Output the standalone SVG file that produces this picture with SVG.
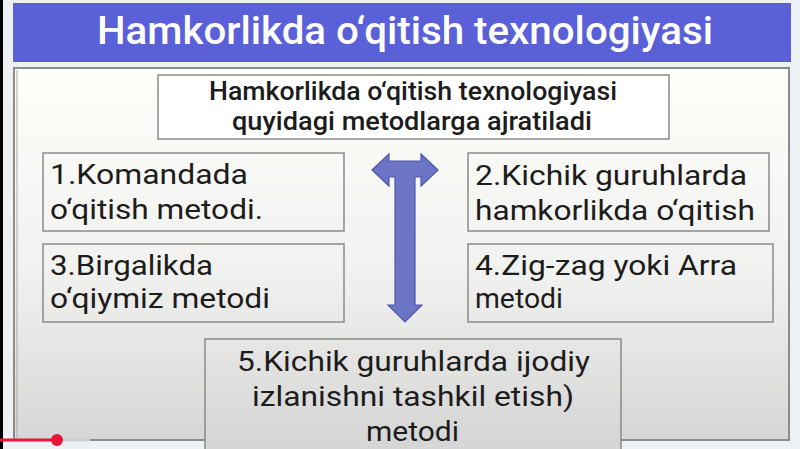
<svg xmlns="http://www.w3.org/2000/svg" width="800" height="449" viewBox="0 0 800 449">
<style>
  .box { stroke: #8a8a8a; stroke-width: 1.5; }
  .t { font-family: Roboto, "Liberation Sans", sans-serif; fill: #1c1c1c; }
  .lg { font-size: 27px; }
  .md { font-size: 25px; font-weight: 500; }
  .xl { font-size: 28px; }
  .hdr { font-family: Roboto, "Liberation Sans", sans-serif; font-size: 38px; font-weight: 500; fill: #ffffff; }
</style>
<defs>
  <linearGradient id="bg" gradientUnits="userSpaceOnUse" x1="0" y1="68" x2="0" y2="440">
    <stop offset="0" stop-color="#fefefb"/>
    <stop offset="0.55" stop-color="#f1f1ef"/>
    <stop offset="1" stop-color="#d6d6d6"/>
  </linearGradient>
</defs>
<rect x="0" y="0" width="800" height="449" fill="#eef1f3"/>
<rect x="0" y="0" width="3" height="449" fill="#000"/>
<g id="header">
  <rect x="13" y="3" width="778" height="59" fill="#5960d8"/>
  <text class="hdr" x="97" y="44" textLength="616" lengthAdjust="spacingAndGlyphs">Hamkorlikda o‘qitish texnologiyasi</text>
</g>
<g id="content">
  <rect x="14" y="68" width="775" height="372" fill="url(#bg)" stroke="#8c8c8c" stroke-width="2"/>
  <line x1="17" y1="70" x2="17" y2="438" stroke="#a8a8a8" stroke-width="1"/>
</g>
<g id="title-box">
  <rect class="box" x="158" y="75" width="511" height="64" fill="#ffffff"/>
  <text class="t md" x="209" y="100" textLength="408" lengthAdjust="spacingAndGlyphs">Hamkorlikda o‘qitish texnologiyasi</text>
  <text class="t md" x="232" y="130" textLength="360" lengthAdjust="spacingAndGlyphs">quyidagi metodlarga ajratiladi</text>
</g>
<g id="node1">
  <rect class="box" x="43" y="153" width="301" height="78" fill="none"/>
  <text class="t lg" x="50" y="184" textLength="198" lengthAdjust="spacingAndGlyphs">1.Komandada</text>
  <text class="t lg" x="50" y="219" textLength="213" lengthAdjust="spacingAndGlyphs">o‘qitish metodi.</text>
</g>
<g id="node2">
  <rect class="box" x="468" y="153" width="301" height="78" fill="none"/>
  <text class="t lg" x="475" y="185" textLength="272" lengthAdjust="spacingAndGlyphs">2.Kichik guruhlarda</text>
  <text class="t lg" x="475" y="220" textLength="280" lengthAdjust="spacingAndGlyphs">hamkorlikda o‘qitish</text>
</g>
<g id="node3">
  <rect class="box" x="43" y="244" width="301" height="78" fill="none"/>
  <text class="t lg" x="50" y="275" textLength="163" lengthAdjust="spacingAndGlyphs">3.Birgalikda</text>
  <text class="t lg" x="50" y="308" textLength="220" lengthAdjust="spacingAndGlyphs">o‘qiymiz metodi</text>
</g>
<g id="node4">
  <rect class="box" x="468" y="244" width="305" height="78" fill="none"/>
  <text class="t lg" x="475" y="275" textLength="262" lengthAdjust="spacingAndGlyphs">4.Zig-zag yoki Arra</text>
  <text class="t lg" x="475" y="308" textLength="88" lengthAdjust="spacingAndGlyphs">metodi</text>
</g>
<g id="connectors">
  <polygon points="372,170 389,154 389,161 421,161 421,154 438,170 421,186 421,177 415,177 415,305 422,305 405,322 388,305 395,305 395,177 389,177 389,186" fill="#6c74c6" stroke="#5058aa" stroke-width="1.2" stroke-linejoin="miter"/>
</g>
<g id="node5">
  <rect class="box" x="205" y="339" width="416" height="115" fill="url(#bg)"/>
  <text class="t xl" x="237" y="371" textLength="353" lengthAdjust="spacingAndGlyphs">5.Kichik guruhlarda ijodiy</text>
  <text class="t xl" x="252" y="406" textLength="322" lengthAdjust="spacingAndGlyphs">izlanishni tashkil etish)</text>
  <text class="t xl" x="366" y="441" textLength="93" lengthAdjust="spacingAndGlyphs">metodi</text>
</g>
<g id="progress">
  <line x1="60" y1="440" x2="90" y2="440" stroke="#cfcfcf" stroke-width="3"/>
  <line x1="0" y1="440" x2="57" y2="440" stroke="#e8173a" stroke-width="3"/>
  <circle cx="57" cy="440" r="6" fill="#e8173a"/>
</g>
</svg>
